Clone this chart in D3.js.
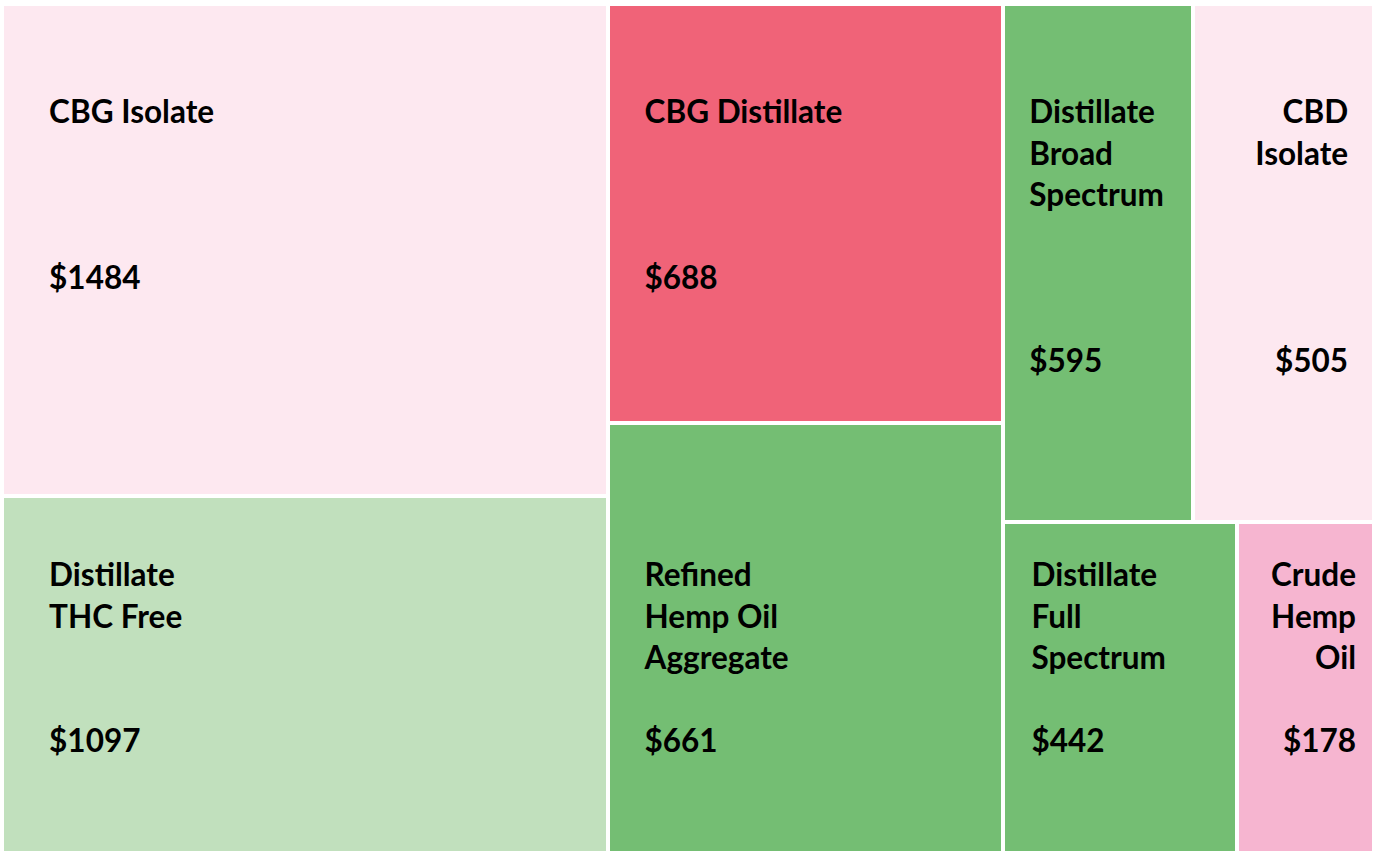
<!DOCTYPE html>
<html>
<head>
<meta charset="utf-8">
<script src="https://cdn.jsdelivr.net/npm/d3@7"></script>
<style>
  body { margin: 0; background: #fff; }
  text { font-family: Lato, "Open Sans", sans-serif; font-weight: 700; fill: #000; }
</style>
</head>
<body>
<div id="chart"></div>
<script>
/* Treemap of hemp product prices */

// data
const names = ["CBG Isolate", "Distillate\nTHC Free", "CBG Distillate", "Refined\nHemp Oil\nAggregate",
    "Distillate\nBroad\nSpectrum", "CBD\nIsolate", "Distillate\nFull\nSpectrum", "Crude\nHemp\nOil"];
const prices = [1484, 1097, 688, 661, 595, 505, 442, 178];
const shares = [296, 215, 164, 168, 98, 93, 77, 45];   // cell size (estimated from area)
const column = [0, 0, 1, 1, 2, 2, 2, 2];
const band = [0, 1, 0, 1, 0, 0, 1, 1];                  // top or bottom band
const colors = ["#fde8f0", "#c1e0bd", "#f06378", "#74be73", "#74be73", "#fde8f0", "#74be73", "#f6b5d0"];

const width = 1375,
    height = 851,
    margin = ({ top: 6, right: 3, bottom: 0, left: 4 });

const svg = d3.select("#chart")
    .append("svg")
    .attr("width", width)
    .attr("height", height)
    .attr("viewBox", [0, 0, width, height]);

// build the nesting: columns, then rows inside the last column
let items = names.map((n, i) => ({ name: n, price: prices[i], size: shares[i], color: colors[i], band: band[i], col: column[i] }));
let cols = d3.groups(items, d => d.col).map(([c, arr]) => {
    if (c === 2) return { children: d3.groups(arr, d => d.band).map(([b, a]) => ({ children: a })) };
    return { children: arr };
});

let root = d3.hierarchy({ children: cols })
    .sum(d => d.size || 0);

d3.treemap()
    .tile(d3.treemapSliceDice)
    .size([width - margin.left - margin.right, height - margin.top - margin.bottom])
    .paddingInner(4)
    .round(true)(root);

const g = svg.append("g")
    .attr("transform", `translate(${margin.left},${margin.top})`);

let cell = g.selectAll("g")
    .data(root.leaves())
    .join("g");

cell.append("rect")
    .attr("x", d => d.x0)
    .attr("y", d => d.y0)
    .attr("width", d => d.x1 - d.x0)
    .attr("height", d => d.y1 - d.y0)
    .attr("fill", d => d.data.color);

const lineH = 41.5,
    fontSize = 31.5,
    innerW = width - margin.left - margin.right,
    innerH = height - margin.top - margin.bottom;

cell.each(function (d) {
    let w = d.x1 - d.x0;
    let pad = w < 150 ? 16 : 15 + 0.05 * w;
    let rightSide = d.x1 >= innerW - 1;
    let x = rightSide ? d.x1 - pad : d.x0 + pad;
    let lines = d.data.name.split("\n");
    let nameY, valueY;
    if (d.data.band === 0) {
        nameY = 117;
        valueY = nameY + (w < 300 ? 6 : 4) * lineH;
    } else {
        valueY = innerH - 99 + margin.bottom;
        nameY = valueY - 4 * lineH;
    }
    let t = d3.select(this).append("text")
        .attr("text-anchor", rightSide ? "end" : "start")
        .style("font-size", fontSize + "px");
    lines.forEach((l, i) => {
        t.append("tspan").attr("x", x).attr("y", nameY + i * lineH).text(l);
    });
    t.append("tspan").attr("x", x).attr("y", valueY).text("$" + d.data.price);
});
</script>
</body>
</html>
